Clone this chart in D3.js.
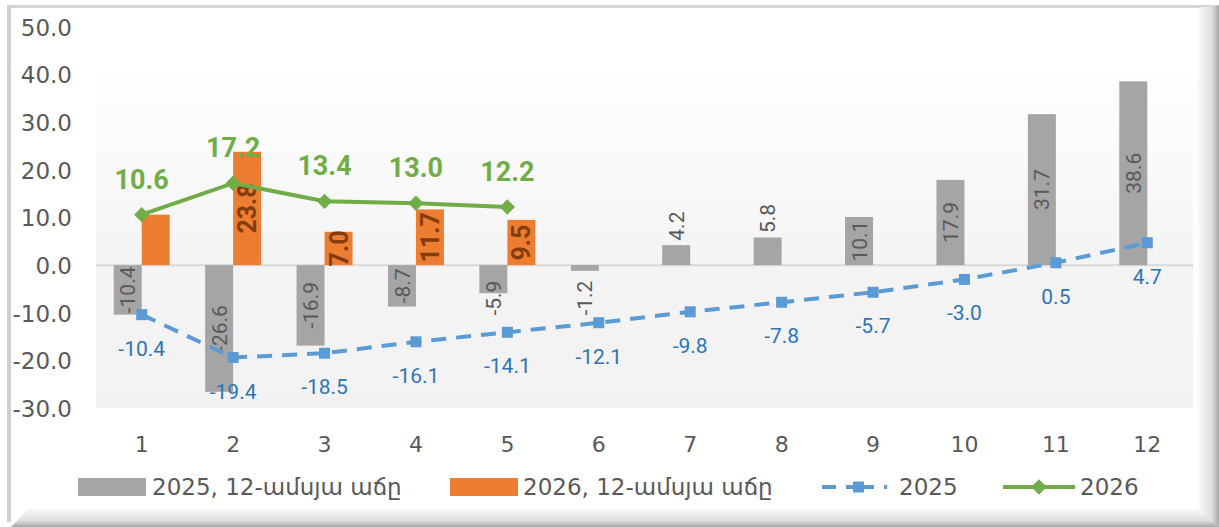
<!DOCTYPE html>
<html>
<head>
<meta charset="utf-8">
<style>
body { margin: 0; background: #fff; }
.tick text { fill: #595959; font-family: "DejaVu Sans", sans-serif; }
.lbl-gray { fill: #595959; font-family: Roboto, sans-serif; font-size: 21px; }
.lbl-orange { fill: #843c0c; font-family: Roboto, sans-serif; font-size: 25px; font-weight: bold; }
.lbl-blue { fill: #2e75b6; font-family: Roboto, sans-serif; font-size: 21px; }
.lbl-green { fill: #70ad47; font-family: Roboto, sans-serif; font-size: 27px; font-weight: bold; }
.legend text { fill: #595959; font-family: "DejaVu Sans", sans-serif; font-size: 23px; }
</style>
</head>
<body>
<svg width="1219" height="527"></svg>
<script src="https://cdn.jsdelivr.net/npm/d3@7"></script>
<script>
// months on the x axis
var months = [1, 2, 3, 4, 5, 6, 7, 8, 9, 10, 11, 12];
// 12-month growth bars
var growth2025 = [-10.4, -26.6, -16.9, -8.7, -5.9, -1.2, 4.2, 5.8, 10.1, 17.9, 31.7, 38.6];
var growth2026 = [10.6, 23.8, 7.0, 11.7, 9.5];
var growth2026Labels = ["", "23.8", "7.0", "11.7", "9.5"];
// cumulative lines
var line2025 = [-10.4, -19.4, -18.5, -16.1, -14.1, -12.1, -9.8, -7.8, -5.7, -3.0, 0.5, 4.7];
var line2026 = [10.6, 17.2, 13.4, 13.0, 12.2];
var yTicks = [-30, -20, -10, 0, 10, 20, 30, 40, 50];
var legendNames = ["2025, 12-ամսյա աճը", "2026, 12-ամսյա աճը", "2025", "2026"];

var svg = d3.select("svg");
var W = 1219, H = 527;

var defs = svg.append("defs");
var bg = defs.append("linearGradient").attr("id", "plotbg").attr("x1", 0).attr("x2", 0).attr("y1", 0).attr("y2", 1);
bg.append("stop").attr("offset", "0%").attr("stop-color", "#ffffff");
bg.append("stop").attr("offset", "10%").attr("stop-color", "#ffffff");
bg.append("stop").attr("offset", "62%").attr("stop-color", "#f4f4f4");
bg.append("stop").attr("offset", "100%").attr("stop-color", "#f2f2f2");
var gr = defs.append("linearGradient").attr("id", "bevR").attr("x1", 0).attr("x2", 1).attr("y1", 0).attr("y2", 0);
gr.append("stop").attr("offset", "0%").attr("stop-color", "#ffffff");
gr.append("stop").attr("offset", "70%").attr("stop-color", "#dcdcdc");
gr.append("stop").attr("offset", "100%").attr("stop-color", "#a6a6a6");
var gb = defs.append("linearGradient").attr("id", "bevB").attr("x1", 0).attr("x2", 0).attr("y1", 0).attr("y2", 1);
gb.append("stop").attr("offset", "0%").attr("stop-color", "#ffffff");
gb.append("stop").attr("offset", "70%").attr("stop-color", "#dcdcdc");
gb.append("stop").attr("offset", "100%").attr("stop-color", "#a6a6a6");

// frame
svg.append("rect").attr("x", 0).attr("y", 0).attr("width", W).attr("height", H).attr("fill", "#fff");
svg.append("rect").attr("x", 7).attr("y", 5).attr("width", W - 11).attr("height", 3).attr("fill", "#d4d4d4");
svg.append("rect").attr("x", 7).attr("y", 5).attr("width", 4).attr("height", H - 10).attr("fill", "#cfcfcf");
svg.append("polygon").attr("points", [[1196, 8], [W, 5], [W, H], [1196, 507]].join(" ")).attr("fill", "url(#bevR)");
svg.append("polygon").attr("points", [[11, H], [30, 507], [1196, 507], [W, H]].join(" ")).attr("fill", "url(#bevB)");

var plotL = 96, plotR = 1193, plotT = 27, plotB = 408;

var x = d3.scaleBand().domain(months).range([plotL, plotR]);
var y = d3.scaleLinear().domain([-30, 50]).range([plotB, plotT]);
var bw = 28;
function fmt(d) { return d.toFixed(1); }

svg.append("rect").attr("x", plotL).attr("y", plotT).attr("width", plotR - plotL).attr("height", plotB - plotT)
  .attr("fill", "url(#plotbg)");
svg.append("line").attr("x1", plotL).attr("x2", plotR).attr("y1", y(0)).attr("y2", y(0))
  .attr("stroke", "#d9d9d9").attr("stroke-width", 2);

// axes
var gy = svg.append("g").attr("transform", "translate(72,0)")
  .call(d3.axisLeft(y).tickValues(yTicks).tickFormat(fmt).tickSize(0).tickPadding(0));
gy.select(".domain").remove();
gy.selectAll("text").attr("font-size", 23).attr("dy", "0.36em");

var gx = svg.append("g").attr("transform", "translate(0," + plotB + ")")
  .call(d3.axisBottom(x).tickSize(0).tickPadding(0));
gx.select(".domain").remove();
gx.selectAll("text").attr("font-size", 22).attr("y", 36).attr("dy", "0.36em");

function cx(m) { return x(m) + x.bandwidth() / 2; }

// bars
svg.selectAll(".g25").data(growth2025).enter().append("rect")
  .attr("fill", "#a5a5a5")
  .attr("x", function(d, i) { return cx(months[i]) - bw; })
  .attr("y", function(d) { return y(Math.max(0, d)); })
  .attr("width", bw)
  .attr("height", function(d) { return Math.abs(y(d) - y(0)); });

svg.selectAll(".g26").data(growth2026).enter().append("rect")
  .attr("fill", "#ed7d31")
  .attr("x", function(d, i) { return cx(months[i]); })
  .attr("y", function(d) { return y(Math.max(0, d)); })
  .attr("width", bw)
  .attr("height", function(d) { return Math.abs(y(d) - y(0)); });

// bar labels (rotated)
svg.selectAll(".l25").data(growth2025).enter().append("text")
  .attr("class", "lbl-gray")
  .attr("transform", function(d, i) {
    var h = Math.abs(y(d) - y(0)), ly;
    if (h >= 35) ly = (y(d) + y(0)) / 2;
    else ly = d > 0 ? y(d) - 19 : y(0) + 33;
    return "translate(" + (cx(months[i]) - bw / 2) + "," + ly + ") rotate(-90)";
  })
  .attr("text-anchor", "middle").attr("dy", "0.36em")
  .text(fmt);

svg.selectAll(".l26").data(growth2026).enter().append("text")
  .attr("class", "lbl-orange")
  .attr("transform", function(d, i) {
    return "translate(" + (cx(months[i]) + bw / 2) + "," + (y(d) + y(0)) / 2 + ") rotate(-90)";
  })
  .attr("text-anchor", "middle").attr("dy", "0.36em")
  .text(function(d, i) { return growth2026Labels[i]; });

// 2025 dashed line
var line = d3.line().x(function(d, i) { return cx(months[i]); }).y(function(d) { return y(d); });
svg.append("path").datum(line2025).attr("d", line)
  .attr("fill", "none").attr("stroke", "#5b9bd5").attr("stroke-width", 4)
  .attr("stroke-dasharray", "15,10");
svg.selectAll(".m25").data(line2025).enter().append("rect")
  .attr("fill", "#5b9bd5")
  .attr("x", function(d, i) { return cx(months[i]) - 5.5; })
  .attr("y", function(d) { return y(d) - 5.5; })
  .attr("width", 11).attr("height", 11);
svg.selectAll(".t25").data(line2025).enter().append("text")
  .attr("class", "lbl-blue").attr("text-anchor", "middle")
  .attr("x", function(d, i) { return cx(months[i]); })
  .attr("y", function(d) { return y(d) + 41; })
  .text(fmt);

// 2026 line
svg.append("path").datum(line2026).attr("d", line)
  .attr("fill", "none").attr("stroke", "#70ad47").attr("stroke-width", 4);
var diamond = d3.symbol().type(d3.symbolDiamond2).size(150);
svg.selectAll(".m26").data(line2026).enter().append("path")
  .attr("fill", "#70ad47").attr("d", diamond)
  .attr("transform", function(d, i) { return "translate(" + cx(months[i]) + "," + y(d) + ")"; });
svg.selectAll(".t26").data(line2026).enter().append("text")
  .attr("class", "lbl-green").attr("text-anchor", "middle")
  .attr("x", function(d, i) { return cx(months[i]); })
  .attr("y", function(d) { return y(d) - 26; })
  .text(fmt);

// legend
var lg = svg.append("g").attr("class", "legend");
var ly = 487;
lg.append("rect").attr("x", 78).attr("y", ly - 9).attr("width", 68).attr("height", 18).attr("fill", "#a5a5a5");
lg.append("text").attr("x", 152).attr("y", ly).attr("dy", "0.36em").text(legendNames[0]);
lg.append("rect").attr("x", 450).attr("y", ly - 9).attr("width", 68).attr("height", 18).attr("fill", "#ed7d31");
lg.append("text").attr("x", 523).attr("y", ly).attr("dy", "0.36em").text(legendNames[1]);
lg.append("line").attr("x1", 822).attr("x2", 896).attr("y1", ly).attr("y2", ly)
  .attr("stroke", "#5b9bd5").attr("stroke-width", 4).attr("stroke-dasharray", "14,10,28,10,3");
lg.append("rect").attr("x", 853).attr("y", ly - 5.5).attr("width", 11).attr("height", 11).attr("fill", "#5b9bd5");
lg.append("text").attr("x", 899).attr("y", ly).attr("dy", "0.36em").text(legendNames[2]);
lg.append("line").attr("x1", 1003).attr("x2", 1075).attr("y1", ly).attr("y2", ly)
  .attr("stroke", "#70ad47").attr("stroke-width", 4);
lg.append("path").attr("d", diamond).attr("fill", "#70ad47").attr("transform", "translate(1039," + ly + ")");
lg.append("text").attr("x", 1080).attr("y", ly).attr("dy", "0.36em").text(legendNames[3]);
</script>
</body>
</html>
